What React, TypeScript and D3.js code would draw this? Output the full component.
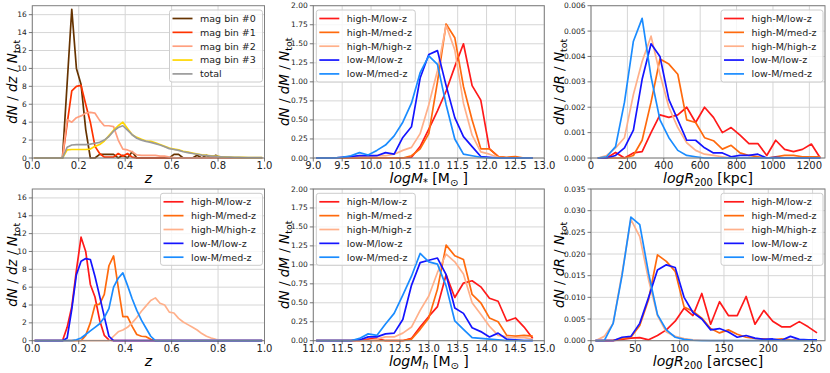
import React from 'react';
import * as d3 from 'd3';

// ---------- x grids ----------
const zGrid = [0.01,0.03,0.05,0.07,0.09,0.11,0.13,0.15,0.17,0.19,0.21,0.23,0.25,0.27,0.29,0.31,0.33,0.35,0.37,0.39,0.41,0.43,0.45,0.47,0.49,0.51,0.53,0.55,0.57,0.59,0.61,0.63,0.65,0.67,0.69,0.71,0.73,0.75,0.77,0.79,0.81,0.83,0.85,0.87,0.89,0.91,0.93,0.95,0.97,0.99];
const mStarGrid = [9.05,9.2,9.35,9.5,9.65,9.8,9.95,10.1,10.25,10.4,10.55,10.7,10.85,11.0,11.15,11.3,11.45,11.6,11.75,11.9,12.05,12.2,12.35,12.5,12.65,12.8];
const rKpcGrid = [37,86,135,184,233,281,330,379,428,477,526,575,624,673,722,770,819,868,917,966,1015,1064,1113,1162,1211,1260];
const mHaloGrid = [11.05,11.2,11.35,11.5,11.65,11.8,11.95,12.1,12.25,12.4,12.55,12.7,12.85,13.0,13.15,13.3,13.45,13.6,13.75,13.9,14.05,14.2,14.35,14.5,14.65,14.8];
const rArcGrid = [5,15,25,35,45,55,65,75,85,95,105,115,125,135,145,155,165,175,185,195,205,215,225,235,245,255];

// ---------- panel 1: dN/dz by magnitude bin ----------
const magBin0 = [0,0,0,0,0,0,0, 8.3,16.6,10.0,8.2,3.2,0,0,0.4,0.4,0.4,0.4,0,0.3,0,0.7,0, 0,0,0,0,0,0,0, 0.4,0.4,0,0,0,0.3,0,0.3,0,0.3, 0,0,0,0,0,0,0,0,0,0];
const magBin1 = [0,0,0,0,0,0,0, 3.8,7.5,8.0,8.1,6.0,4.0,1.3,0.5,0.1,0.1,0.1,0.5,0.2,0.5,0.1,0, 0,0,0,0,0,0,0,0,0,0,0,0,0,0,0,0,0,0,0,0,0,0,0,0,0,0,0];
const magBin2 = [0,0,0,0,0,0,0, 4.3,4.0,4.5,4.7,5.0,5.1,5.0,4.2,3.6,3.6,3.5,2.0,1.0,0.9,0.7,0.35,0.3,0.3,0.3,0.3,0.2,0.2,0.1,0.05, 0,0,0,0,0,0,0,0,0,0,0,0,0,0,0,0,0,0,0];
const magBin3 = [0,0,0,0,0,0,0, 0.9,0.95,0.95,0.95,0.95,1.0,1.3,1.5,1.9,2.5,3.1,3.6,4.0,3.3,2.6,2.3,2.1,1.9,1.85,1.7,1.5,1.3,1.1,1.0,0.9,0.75,0.65,0.55,0.45,0.35,0.3,0.25,0.2,0.15,0.12,0.1,0.08,0.07,0.06,0.05,0.05,0.05,0.05];
const magTotal = [0,0,0,0,0,0,0, 1.2,1.45,1.5,1.5,1.5,1.55,1.65,1.75,2.0,2.4,3.0,3.4,3.6,3.1,2.6,2.2,2.0,1.85,1.75,1.6,1.45,1.25,1.05,0.95,0.85,0.7,0.6,0.5,0.42,0.33,0.27,0.22,0.18,0.14,0.11,0.09,0.07,0.06,0.05,0.05,0.04,0.04,0.04];

// ---------- panel 2: dN/dM (stellar mass) ----------
const msHighLowZ  = [0,0,0,0,0,0,0,0,0,0,0,0.01,0.15,0.38,0.62,0.88,1.2,1.5,0.95,0.76,0.12,0.02,0,0,0,0];
const msHighMedZ  = [0,0,0,0,0,0,0,0,0,0,0,0.03,0.12,0.32,1.0,1.76,1.58,0.94,0.5,0.12,0.12,0.02,0.01,0.02,0,0];
const msHighHighZ = [0,0,0,0.01,0.02,0.02,0.02,0.03,0.03,0.05,0.1,0.14,0.32,0.7,1.15,1.74,1.42,0.72,0.3,0.08,0.05,0.01,0,0,0,0];
const msLowLowZ   = [0,0,0,0.01,0.02,0.03,0.03,0.03,0.07,0.05,0.27,0.41,1.05,1.36,1.41,0.95,0.53,0.28,0.15,0.02,0.01,0,0,0,0,0];
const msLowMedZ   = [0,0,0,0.01,0.03,0.07,0.04,0.1,0.17,0.29,0.47,0.72,1.12,1.34,1.23,0.7,0.25,0.05,0.03,0.01,0,0,0,0,0,0];

// ---------- panel 3: dN/dR (kpc) ----------
const rkHighLowZ  = [0,0,0.00022,0,0.0002,0.00025,0.001,0.0017,0.0016,0.0017,0.002,0.0014,0.002,0.0016,0.001,0.0012,0.0009,0.00057,0.00057,0.0001,0.0007,0.00034,0.00025,0.00034,0.00055,0];
const rkHighMedZ  = [0,0,0,0,0.0001,0.0007,0.0022,0.0039,0.0037,0.0033,0.0015,0.0014,0.0008,0.00068,0.00035,0.0005,0.0002,0.0001,0.00005,0,0.00005,0.0001,0.0001,0.00005,0.00005,0.00005];
const rkHighHighZ = [0,0.0001,0.0004,0.0008,0.0025,0.0038,0.0048,0.0033,0.002,0.0012,0.0006,0.0003,0.00015,0.0001,0.00005,0,0,0,0,0,0,0,0,0,0,0];
const rkLowLowZ   = [0,0,0.0001,0.0004,0.0011,0.0031,0.0045,0.004,0.0023,0.0015,0.0007,0.0007,0.0004,0.0002,0.0002,0.00005,0.0001,0.0001,0.00015,0,0.00003,0,0,0,0,0];
const rkLowMedZ   = [0,0.00005,0.00045,0.0022,0.0046,0.0055,0.0032,0.0015,0.0008,0.0003,0.0001,0.00005,0,0,0,0,0,0,0,0,0,0,0,0,0,0];

// ---------- panel 4: dN/dz by sub-sample ----------
const bzHighLowZ  = [0,0,0,0,0,0,0, 1.5,3.8,7.9,11.6,10.0,6.3,4.9,2.3,0.6,0.1, 0,0,0,0,0,0,0,0,0,0,0,0,0,0,0,0,0,0,0,0,0,0,0,0,0,0,0,0,0,0,0,0,0];
const bzHighMedZ  = [0,0,0,0,0,0,0,0,0,0,0, 0.6,2.0,4.0,4.1,5.2,8.4,9.5,6.0,2.7,2.7,1.6,0.7,0.5,0.45,0.15, 0,0,0,0,0,0,0,0,0,0,0,0,0,0,0,0,0,0,0,0,0,0,0,0];
const bzHighHighZ = [0,0,0,0,0,0,0,0,0,0,0,0,0,0,0,0,0, 0.5,1.0,1.2,1.5,2.0,2.6,3.3,3.9,4.5,4.8,4.2,4.0,3.2,3.1,2.5,2.1,1.8,1.5,1.2,0.8,0.5,0.3,0.15,0.05, 0,0,0,0,0,0,0,0,0];
const bzLowLowZ   = [0,0,0,0,0,0,0, 0.3,3.5,7.4,8.9,9.2,9.1,7.2,5.0,2.7,0.5, 0,0,0,0,0,0,0,0,0,0,0,0,0,0,0,0,0,0,0,0,0,0,0,0,0,0,0,0,0,0,0,0,0];
const bzLowMedZ   = [0,0,0,0,0,0,0,0,0, 0.1,0.3,0.7,1.1,1.5,1.9,2.6,3.6,6.0,7.0,7.6,6.2,4.7,3.4,2.3,1.4,0.5, 0,0,0,0,0,0,0,0,0,0,0,0,0,0,0,0,0,0,0,0,0,0,0,0];

// ---------- panel 5: dN/dM (halo mass) ----------
const mhHighLowZ  = [0,0,0,0,0,0,0.02,0.03,0,0,0,0.03,0.18,0.32,0.45,0.87,0.57,0.76,0.79,0.71,0.56,0.52,0.26,0.3,0.18,0.03];
const mhHighMedZ  = [0,0,0,0,0,0,0,0,0,0,0,0.02,0.15,0.3,0.68,1.26,1.12,1.07,0.61,0.5,0.3,0.25,0.07,0.06,0.07,0.06];
const mhHighHighZ = [0,0,0,0,0,0,0,0.02,0.05,0.05,0.1,0.18,0.4,0.59,0.9,1.14,1.04,0.88,0.5,0.35,0.19,0.07,0.05,0.04,0.04,0.02];
const mhLowLowZ   = [0,0,0,0,0,0.01,0.05,0.05,0.09,0.1,0.28,0.73,1.03,1.06,1.09,0.87,0.43,0.36,0.17,0.12,0.05,0.1,0.02,0.01,0,0];
const mhLowMedZ   = [0,0,0,0,0,0.03,0.09,0.07,0.22,0.36,0.6,0.85,1.15,1.04,1.01,0.72,0.26,0.15,0.04,0.03,0.02,0.01,0,0,0,0];

// ---------- panel 6: dN/dR (arcsec) ----------
const raHighLowZ  = [0,0,0,0.0003,0.0006,0.0007,0.0002,0.0012,0.0025,0.0045,0.0075,0.0058,0.0109,0.0038,0.009,0.0058,0.0058,0.0102,0.0038,0.007,0.0045,0.0032,0.0032,0.0044,0.0032,0.0018];
const raHighMedZ  = [0,0,0.0001,0.0005,0.0008,0.0035,0.0095,0.0198,0.0183,0.016,0.0078,0.0068,0.0052,0.0028,0.0018,0.0025,0.0015,0.0008,0.0005,0.0004,0.0002,0.0004,0.0002,0.0001,0.0001,0.0001];
const raHighHighZ = [0,0.001,0.004,0.0155,0.028,0.024,0.014,0.0058,0.002,0.001,0.0005,0.0002,0.0001,0,0,0,0,0,0,0,0,0,0,0,0,0];
const raLowLowZ   = [0,0,0,0.0008,0.001,0.004,0.01,0.0163,0.0175,0.0169,0.01,0.0065,0.005,0.0025,0.0028,0.002,0.0008,0.0012,0.0006,0.0003,0.0004,0.0001,0.001,0.0003,0.0002,0.0002];
const raLowMedZ   = [0,0,0.004,0.015,0.0285,0.0268,0.0155,0.006,0.0025,0.0008,0.0003,0.0001,0,0,0,0,0,0,0,0,0,0,0,0,0,0];

// ---------- ticks ----------
const zTicks = [0, 0.2, 0.4, 0.6, 0.8, 1.0];
const dzTicks = [0, 2, 4, 6, 8, 10, 12, 14, 16];
const mStarTicks = [9, 9.5, 10, 10.5, 11, 11.5, 12, 12.5, 13];
const mHaloTicks = [11, 11.5, 12, 12.5, 13, 13.5, 14, 14.5, 15];
const dmTicks = [0, 0.25, 0.5, 0.75, 1.0, 1.25, 1.5, 1.75, 2.0];
const rKpcTicks = [0, 200, 400, 600, 800, 1000, 1200];
const drKpcTicks = [0, 0.001, 0.002, 0.003, 0.004, 0.005, 0.006];
const rArcTicks = [0, 50, 100, 150, 200, 250];
const drArcTicks = [0, 0.005, 0.01, 0.015, 0.02, 0.025, 0.03, 0.035];

// ---------- labels / colours ----------
const magLabels = ['mag bin #0', 'mag bin #1', 'mag bin #2', 'mag bin #3', 'total'];
const magColors = ['#663300', '#ff3300', '#ff9f7f', '#ffd700', '#9a9a9a'];
const subLabels = ['high-M/low-z', 'high-M/med-z', 'high-M/high-z', 'low-M/low-z', 'low-M/med-z'];
const subColors = ['#ff1a1a', '#ff6a0d', '#ffb08a', '#1414ff', '#1a8cff'];

const FONT = "'DejaVu Sans', Verdana, sans-serif";
const FRAME = '#7f7f7f';
const GRID = '#d6d6d6';

type Series = { label: string; color: string; values: number[] };

type PanelProps = {
  left: number; right: number; top: number; bottom: number;
  xs: number[]; series: Series[];
  xDomain: [number, number]; yDomain: [number, number];
  xTicks: number[]; yTicks: number[];
  xFmt: (v: number) => string; yFmt: (v: number) => string;
  legendSide: 'left' | 'right'; legendWidth: number;
  xLabel: React.ReactNode; yLabel: React.ReactNode; yLabelX: number;
};

function Panel(p: PanelProps) {
  const x = d3.scaleLinear().domain(p.xDomain).range([p.left, p.right]);
  const y = d3.scaleLinear().domain(p.yDomain).range([p.bottom, p.top]);
  const line = d3.line<number>().x((_, i) => x(p.xs[i])).y((d) => y(d));
  const lgW = p.legendWidth;
  const lgH = 72;
  const lgX = p.legendSide === 'right' ? p.right - 2 - lgW : p.left + 3;
  const lgY = p.top + 4.3;
  const cy = (p.top + p.bottom) / 2;
  const cx = (p.left + p.right) / 2;
  return (
    <g>
      <defs>
        <clipPath id={`clip-${p.left}-${p.top}`}>
          <rect x={p.left} y={p.top - 1} width={p.right - p.left} height={p.bottom - p.top + 2} />
        </clipPath>
      </defs>
      {p.xTicks.map((t) => (
        <line key={'gx' + t} x1={x(t)} x2={x(t)} y1={p.top} y2={p.bottom} stroke={GRID} strokeWidth={1} />
      ))}
      {p.yTicks.map((t) => (
        <line key={'gy' + t} x1={p.left} x2={p.right} y1={y(t)} y2={y(t)} stroke={GRID} strokeWidth={1} />
      ))}
      <g clipPath={`url(#clip-${p.left}-${p.top})`}>
        {p.series.map((s) => (
          <path key={s.label} d={line(s.values) || ''} fill="none" stroke={s.color} strokeWidth={1.7} strokeLinejoin="round" />
        ))}
      </g>
      <rect x={p.left} y={p.top} width={p.right - p.left} height={p.bottom - p.top} fill="none" stroke={FRAME} strokeWidth={1} />
      {p.xTicks.map((t) => (
        <g key={'tx' + t}>
          <line x1={x(t)} x2={x(t)} y1={p.bottom} y2={p.bottom + 3.5} stroke="#555" strokeWidth={0.8} />
          <text x={x(t)} y={p.bottom + 11.4} fontSize={10} textAnchor="middle" fill="#222">{p.xFmt(t)}</text>
        </g>
      ))}
      {p.yTicks.map((t) => (
        <g key={'ty' + t}>
          <line x1={p.left - 3.5} x2={p.left} y1={y(t)} y2={y(t)} stroke="#555" strokeWidth={0.8} />
          <text x={p.left - 5.5} y={y(t) + 2.5} fontSize={7.5} textAnchor="end" fill="#222">{p.yFmt(t)}</text>
        </g>
      ))}
      <text x={cx} y={p.bottom + 25} fontSize={14} textAnchor="middle" fill="#000" style={{ whiteSpace: 'pre' }}>{p.xLabel}</text>
      <text transform={`translate(${p.yLabelX},${cy}) rotate(-90)`} fontSize={13.5} textAnchor="middle" fill="#000" style={{ whiteSpace: 'pre' }}>{p.yLabel}</text>
      <g>
        <rect x={lgX} y={lgY} width={lgW} height={lgH} rx={2.5} fill="#fff" fillOpacity={0.8} stroke="#cccccc" strokeWidth={1} />
        {p.series.map((s, i) => {
          const ry = lgY + 8.5 + i * 13.85;
          return (
            <g key={'lg' + s.label}>
              <line x1={lgX + 3} x2={lgX + 23} y1={ry} y2={ry} stroke={s.color} strokeWidth={1.7} />
              <text x={lgX + 30.5} y={ry + 3.4} fontSize={9.5} fill="#222">{s.label}</text>
            </g>
          );
        })}
      </g>
    </g>
  );
}

const yLab = (v: string) => (
  <>
    <tspan fontStyle="italic">dN</tspan>
    <tspan> / </tspan>
    <tspan fontStyle="italic">{v}</tspan>
    <tspan> / </tspan>
    <tspan fontStyle="italic">N</tspan>
    <tspan fontSize="0.7em" dy={3}>tot</tspan>
  </>
);

const mk = (vals: number[][], labels: string[], colors: string[]): Series[] =>
  vals.map((v, i) => ({ label: labels[i], color: colors[i], values: v }));

const f1 = d3.format('.1f');
const f0 = d3.format('d');
const f2 = d3.format('.2f');
const f3 = d3.format('.3f');

export default function App() {
  const cols = [
    { left: 32.3, right: 264.5, yLabelX: 17 },
    { left: 313.3, right: 544.3, yLabelX: 289 },
    { left: 591, right: 825, yLabelX: 564 },
  ];
  const rows = [
    { top: 5.7, bottom: 158 },
    { top: 189, bottom: 340.7 },
  ];
  const panels: PanelProps[] = [
    {
      ...cols[0], ...rows[0], xs: zGrid,
      series: mk([magBin0, magBin1, magBin2, magBin3, magTotal], magLabels, magColors),
      xDomain: [0, 1], yDomain: [0, 17], xTicks: zTicks, yTicks: dzTicks, xFmt: f1, yFmt: f0,
      legendSide: 'right', legendWidth: 93,
      xLabel: <tspan fontStyle="italic">z</tspan>, yLabel: yLab('dz'),
    },
    {
      ...cols[1], ...rows[0], xs: mStarGrid,
      series: mk([msHighLowZ, msHighMedZ, msHighHighZ, msLowLowZ, msLowMedZ], subLabels, subColors),
      xDomain: [9, 13], yDomain: [0, 2], xTicks: mStarTicks, yTicks: dmTicks, xFmt: f1, yFmt: f2,
      legendSide: 'left', legendWidth: 99,
      xLabel: (<>
        <tspan fontStyle="italic">logM</tspan><tspan fontSize="0.7em" dy={3}>*</tspan>
        <tspan dy={-3}> [M</tspan><tspan fontSize="0.7em" dy={3}>⊙</tspan><tspan dy={-3}> ]</tspan>
      </>),
      yLabel: yLab('dM'),
    },
    {
      ...cols[2], ...rows[0], xs: rKpcGrid,
      series: mk([rkHighLowZ, rkHighMedZ, rkHighHighZ, rkLowLowZ, rkLowMedZ], subLabels, subColors),
      xDomain: [0, 1286], yDomain: [0, 0.006], xTicks: rKpcTicks, yTicks: drKpcTicks, xFmt: f0, yFmt: f3,
      legendSide: 'right', legendWidth: 102,
      xLabel: (<>
        <tspan fontStyle="italic">logR</tspan><tspan fontSize="0.7em" dy={3}>200</tspan>
        <tspan dy={-3}> [kpc]</tspan>
      </>),
      yLabel: yLab('dR'),
    },
    {
      ...cols[0], ...rows[1], xs: zGrid,
      series: mk([bzHighLowZ, bzHighMedZ, bzHighHighZ, bzLowLowZ, bzLowMedZ], subLabels, subColors),
      xDomain: [0, 1], yDomain: [0, 17], xTicks: zTicks, yTicks: dzTicks, xFmt: f1, yFmt: f0,
      legendSide: 'right', legendWidth: 102,
      xLabel: <tspan fontStyle="italic">z</tspan>, yLabel: yLab('dz'),
    },
    {
      ...cols[1], ...rows[1], xs: mHaloGrid,
      series: mk([mhHighLowZ, mhHighMedZ, mhHighHighZ, mhLowLowZ, mhLowMedZ], subLabels, subColors),
      xDomain: [11, 15], yDomain: [0, 2], xTicks: mHaloTicks, yTicks: dmTicks, xFmt: f1, yFmt: f2,
      legendSide: 'left', legendWidth: 99,
      xLabel: (<>
        <tspan fontStyle="italic">logM</tspan><tspan fontSize="0.7em" fontStyle="italic" dy={3}>h</tspan>
        <tspan dy={-3}> [M</tspan><tspan fontSize="0.7em" dy={3}>⊙</tspan><tspan dy={-3}> ]</tspan>
      </>),
      yLabel: yLab('dM'),
    },
    {
      ...cols[2], ...rows[1], xs: rArcGrid,
      series: mk([raHighLowZ, raHighMedZ, raHighHighZ, raLowLowZ, raLowMedZ], subLabels, subColors),
      xDomain: [0, 264], yDomain: [0, 0.035], xTicks: rArcTicks, yTicks: drArcTicks, xFmt: f0, yFmt: f3,
      legendSide: 'right', legendWidth: 102,
      xLabel: (<>
        <tspan fontStyle="italic">logR</tspan><tspan fontSize="0.7em" dy={3}>200</tspan>
        <tspan dy={-3}> [arcsec]</tspan>
      </>),
      yLabel: yLab('dR'),
    },
  ];
  return (
    <svg width={830} height={373} viewBox="0 0 830 373"
      style={{ position: 'absolute', left: 0, top: 0, background: '#fff' }}
      fontFamily={FONT}>
      <rect x={0} y={0} width={830} height={373} fill="#fff" />
      {panels.map((p, i) => <Panel key={i} {...p} />)}
    </svg>
  );
}
